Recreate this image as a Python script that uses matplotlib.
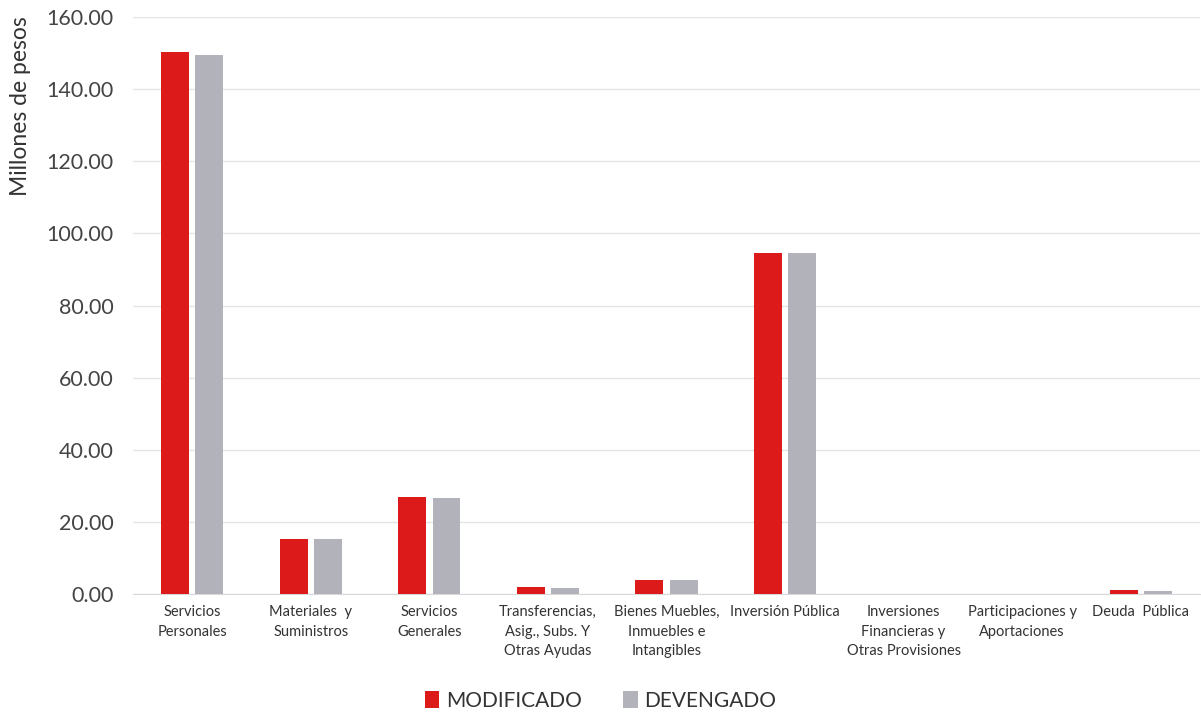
import matplotlib.pyplot as plt
import numpy as np

categorias = [
    "Servicios\nPersonales",
    "Materiales  y\nSuministros",
    "Servicios\nGenerales",
    "Transferencias,\nAsig., Subs. Y\nOtras Ayudas",
    "Bienes Muebles,\nInmuebles e\nIntangibles",
    "Inversión Pública",
    "Inversiones\nFinancieras y\nOtras Provisiones",
    "Participaciones y\nAportaciones",
    "Deuda  Pública",
]
modificado = [150.2, 15.2, 26.8, 1.9, 3.9, 94.6, 0.0, 0.0, 1.1]
devengado = [149.6, 15.2, 26.6, 1.8, 3.8, 94.5, 0.0, 0.0, 0.8]
yticks = [0, 20, 40, 60, 80, 100, 120, 140, 160]

plt.rcParams['font.family'] = ['Lato', 'DejaVu Sans']

fig = plt.figure(figsize=(12.01, 7.14), dpi=100)
ax = fig.add_axes([133 / 1201, 1 - 594 / 714, 1067 / 1201, 577 / 714])

x = np.arange(len(categorias))
w = 0.235
ax.bar(x - w / 2 - 0.027, modificado, w, color='#DC1A1A', label='MODIFICADO', zorder=3)
ax.bar(x + w / 2 + 0.027, devengado, w, color='#B2B2BA', label='DEVENGADO', zorder=3)

ax.set_xlim(-0.5, len(categorias) - 0.5)
ax.set_ylim(0, 160)
ax.set_yticks(yticks)
ax.set_yticklabels([f"{v:.2f}" for v in yticks], fontsize=15.5, color='#444444')
ax.set_xticks(x)
ax.set_xticklabels(categorias, fontsize=10.5, color='#333333', linespacing=1.5)
ax.tick_params(axis='both', length=0)
ax.tick_params(axis='y', pad=14)
ax.tick_params(axis='x', pad=8)
ax.yaxis.grid(True, color='#E4E4E4', linewidth=1, zorder=0)
for s in ['top', 'right', 'left']:
    ax.spines[s].set_visible(False)
ax.spines['bottom'].set_color('#D9D9D9')
ax.set_ylabel("Millones de pesos", fontsize=16.5, color='#333333')
ax.yaxis.set_label_coords(-0.096, 0.845)

fig.legend(loc='lower center', bbox_to_anchor=(0.5, -0.022), ncol=2, frameon=False,
           fontsize=15, handlelength=0.7, handleheight=0.9,
           handletextpad=0.3, columnspacing=2.0, labelcolor='#333333')

fig.savefig('out.png', dpi=100, facecolor='white')
